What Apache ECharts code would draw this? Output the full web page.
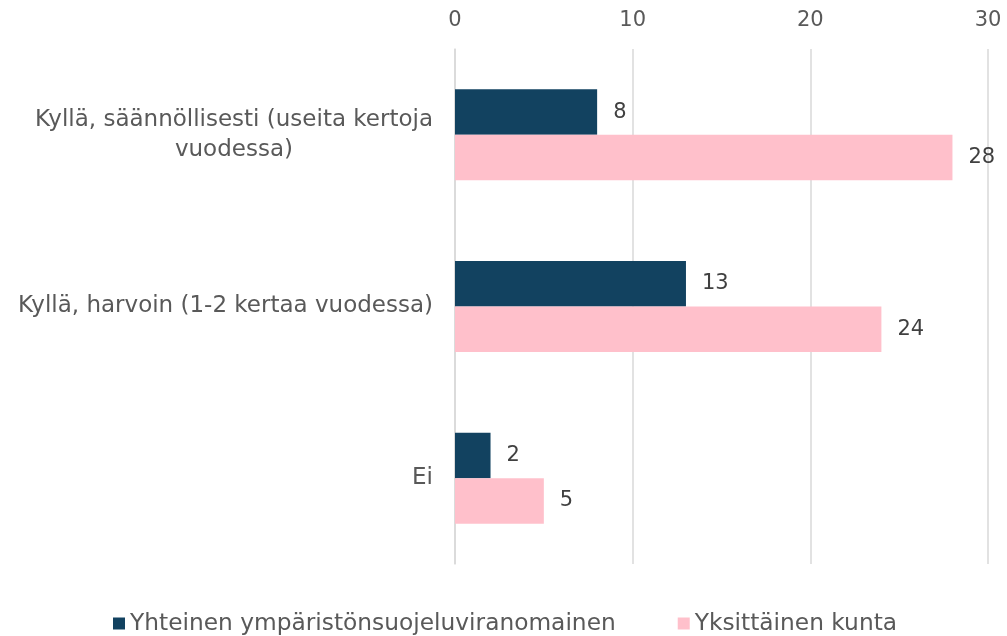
<!DOCTYPE html>
<html><head><meta charset="utf-8">
<script src="https://cdn.jsdelivr.net/npm/echarts@6/dist/echarts.min.js"></script>
<style>html,body{margin:0;padding:0;background:#fff}#c{width:1007px;height:636px}</style>
</head><body><div id="c"></div>
<script>
const categories = ["Kyllä, säännöllisesti (useita kertoja vuodessa)", "Kyllä, harvoin (1-2 kertaa vuodessa)", "Ei"];
const seriesNames = ["Yhteinen ympäristönsuojeluviranomainen", "Yksittäinen kunta"];
const yhteinen = [8, 13, 2];
const yksittainen = [28, 24, 5];
const FONT = "DejaVu Sans";
const FS = 23;
const chart = echarts.init(document.getElementById('c'), null, {renderer: 'canvas'});
chart.setOption({
  animation: false,
  textStyle: {fontFamily: FONT},
  grid: {left: 455, right: 19, top: 49, bottom: 72, containLabel: false},
  legend: {
    bottom: -4, left: 108, itemWidth: 12, itemHeight: 12, itemGap: 62,
    icon: 'rect',
    textStyle: {fontSize: 23.3, color: '#595959', fontFamily: FONT},
    data: seriesNames
  },
  xAxis: {
    type: 'value', position: 'top', min: 0, max: 30, interval: 10,
    axisLine: {show: false}, axisTick: {show: false},
    splitLine: {lineStyle: {color: '#d9d9d9', width: 1.5}},
    axisLabel: {fontSize: 21, color: '#595959', margin: 18}
  },
  yAxis: {
    type: 'category', inverse: true, data: categories,
    axisLine: {show: true, lineStyle: {color: '#d9d9d9', width: 1.5}}, axisTick: {show: false},
    axisLabel: {
      fontSize: FS, color: '#595959', margin: 22, align: 'right',
      formatter: v => {
        const parts = v.length > 40 ? [v.slice(0, v.lastIndexOf(' ')), v.slice(v.lastIndexOf(' ') + 1)] : [v];
        return parts.map(p => '{a|' + p + '}').join('\n');
      },
      rich: {a: {fontSize: FS, color: '#595959', align: 'center', lineHeight: 30, fontFamily: FONT}}
    }
  },
  series: [
    {name: seriesNames[0], type: 'bar', data: yhteinen, barGap: '0%', barCategoryGap: '47%',
     itemStyle: {color: '#124260'},
     label: {show: true, position: 'right', distance: 16, fontSize: 21, color: '#404040'}},
    {name: seriesNames[1], type: 'bar', data: yksittainen, barGap: '0%', barCategoryGap: '47%',
     itemStyle: {color: '#FFC0CB'},
     label: {show: true, position: 'right', distance: 16, fontSize: 21, color: '#404040'}}
  ]
});
</script></body></html>
